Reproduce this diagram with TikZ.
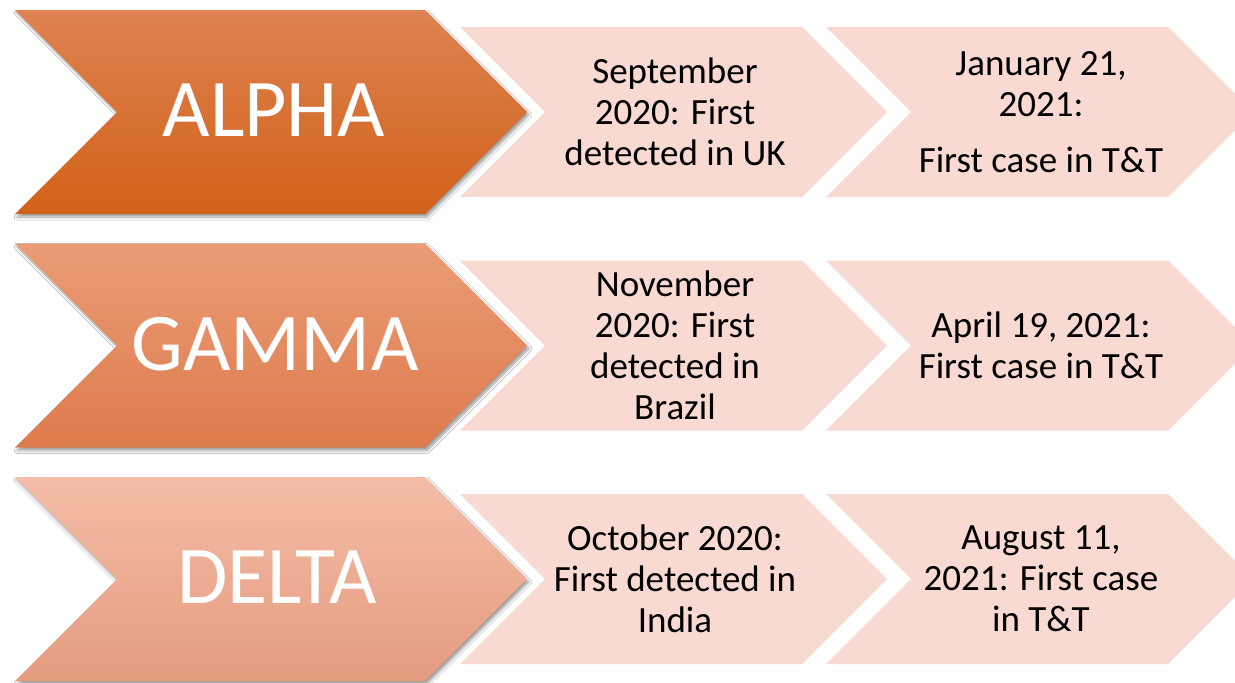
\documentclass[tikz,border=0pt]{standalone}
\usepackage{fontspec}
\setmainfont{Carlito}
\usetikzlibrary{shadows.blur}
\definecolor{alphaT}{RGB}{222,131,82}
\definecolor{alphaM}{RGB}{224,113,40}
\definecolor{alphaB}{RGB}{209,97,24}
\definecolor{gammaT}{RGB}{234,156,118}
\definecolor{gammaM}{RGB}{237,141,95}
\definecolor{gammaB}{RGB}{222,123,77}
\definecolor{deltaT}{RGB}{244,189,166}
\definecolor{deltaM}{RGB}{245,175,147}
\definecolor{deltaB}{RGB}{228,155,128}
\definecolor{pinkc}{RGB}{248,218,210}
\begin{document}
\begin{tikzpicture}[x=1pt,y=-1pt,
  bigtxt/.style={text=white, font=\fontsize{82}{90}\selectfont, inner sep=0pt},
  smalltxt/.style={text=black, font=\fontsize{37}{41}\selectfont, align=center, inner sep=0pt},
  pinkchev/.style={fill=pinkc, draw=none},
  bigchev/.style={draw=none, blur shadow={shadow xshift=2pt, shadow yshift=-3pt, shadow blur steps=6, shadow blur radius=3pt, shadow opacity=40}}]
\useasboundingbox (0,0) rectangle (1235,683);
\clip (0,0) rectangle (1235,683);
\fill[white] (0,0) rectangle (1235,683);

\foreach \c/\t/\m/\b in {112/alphaT/alphaM/alphaB, 345.5/gammaT/gammaM/gammaB, 579/deltaT/deltaM/deltaB}{
  \path[bigchev, top color=\t, middle color=\m, bottom color=\b]
    (15,\c-102) -- (425,\c-102) -- (527,\c) -- (425,\c+102) -- (15,\c+102) -- (117,\c) -- cycle;
  \path[pinkchev] (460,\c-85) -- (802,\c-85) -- (887,\c) -- (802,\c+85) -- (460,\c+85) -- (545,\c) -- cycle;
  \path[pinkchev] (826,\c-85) -- (1168,\c-85) -- (1253,\c) -- (1168,\c+85) -- (826,\c+85) -- (911,\c) -- cycle;
}

\node[bigtxt] (alpha) at (274,110) {ALPHA};
\node[bigtxt] (gamma) at (275,344) {GAMMA};
\node[bigtxt] (delta) at (277,577) {DELTA};

\node[smalltxt] (a1) at (675,112) {September\\2020: First\\detected in UK};
\node[smalltxt] (a2) at (1041,112) {January 21,\\2021:\\[15pt]First case in T\&T};
\node[smalltxt] (g1) at (675,345.5) {November\\2020: First\\detected in\\Brazil};
\node[smalltxt] (g2) at (1041,345.5) {April 19, 2021:\\First case in T\&T};
\node[smalltxt] (d1) at (675,579) {October 2020:\\First detected in\\India};
\node[smalltxt] (d2) at (1041,579) {August 11,\\2021: First case\\in T\&T};
\end{tikzpicture}
\end{document}
